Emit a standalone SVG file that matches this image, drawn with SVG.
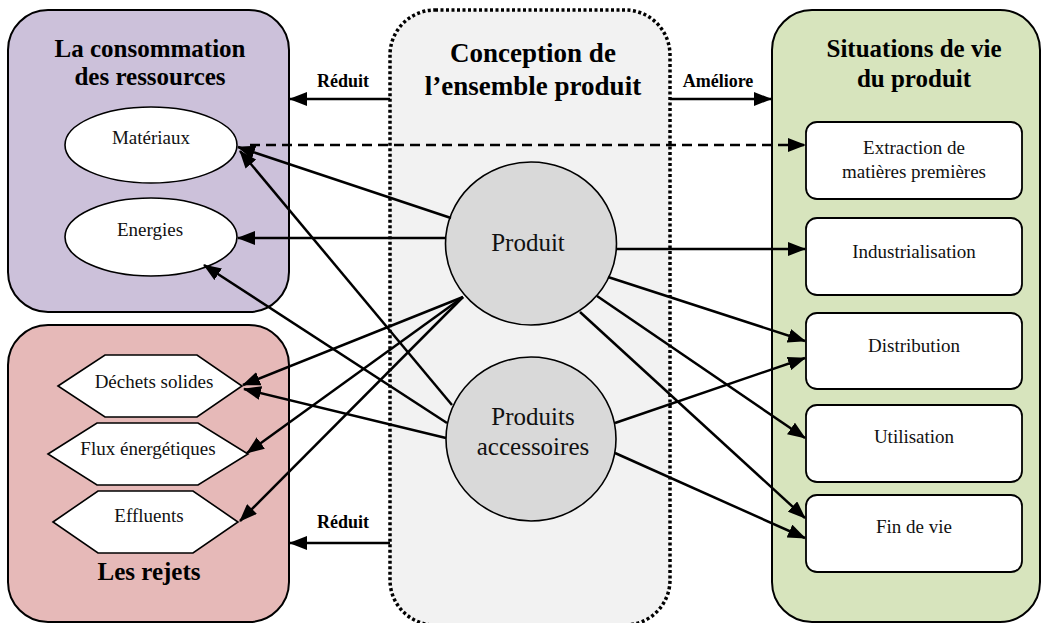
<svg xmlns="http://www.w3.org/2000/svg" width="1043" height="623" viewBox="0 0 1043 623">
<defs>
<marker id="ah" markerUnits="userSpaceOnUse" markerWidth="18" markerHeight="14" refX="17" refY="7" orient="auto">
<path d="M0,0 L18,7 L0,14 z" fill="#000"/>
</marker>
<style>
.panel{stroke:#000;stroke-width:2}
.title{font-family:"Liberation Serif","Times New Roman",serif;font-weight:bold;font-size:25px;text-anchor:middle;fill:#000}
.ctitle{font-family:"Liberation Serif","Times New Roman",serif;font-weight:bold;font-size:27px;text-anchor:middle;fill:#000}
.lbl{font-family:"Liberation Serif","Times New Roman",serif;font-size:19px;text-anchor:middle;fill:#111}
.big{font-family:"Liberation Serif","Times New Roman",serif;font-size:25px;text-anchor:middle;fill:#111}
.act{font-family:"Liberation Serif","Times New Roman",serif;font-weight:bold;font-size:18px;text-anchor:middle;fill:#000}
.shape{fill:#fff;stroke:#000;stroke-width:1.6}
.circ{fill:#d9d9d9;stroke:#000;stroke-width:1.6}
.box{fill:#fff;stroke:#000;stroke-width:1.8}
.c{stroke:#000;stroke-width:2.5;fill:none;marker-end:url(#ah)}
.dash{stroke:#000;stroke-width:2.5;fill:none;stroke-dasharray:10 6;marker-end:url(#ah)}
</style>
</defs>

<g id="panel-ressources">
<rect class="panel" x="8" y="10" width="281" height="302" rx="40" ry="40" fill="#ccc1da"/>
<text class="title" x="150" y="57">La consommation</text>
<text class="title" x="150" y="85">des ressources</text>
</g>
<g id="panel-rejets">
<rect class="panel" x="8" y="325" width="281" height="297" rx="40" ry="40" fill="#e6b9b8"/>
<text class="title" x="149" y="580">Les rejets</text>
</g>
<g id="panel-conception">
<rect x="390" y="10" width="280" height="615" rx="45" ry="45" fill="#f2f2f2" stroke="#000" stroke-width="3.5" stroke-dasharray="3 2.5"/>
<text class="ctitle" x="533" y="62">Conception de</text>
<text class="ctitle" x="533" y="95">l’ensemble produit</text>
</g>
<g id="panel-situations">
<rect class="panel" x="772" y="10" width="268" height="612" rx="40" ry="40" fill="#d7e4bd"/>
<text class="title" x="914" y="57">Situations de vie</text>
<text class="title" x="914" y="87">du produit</text>
</g>

<g id="materiaux">
<ellipse class="shape" cx="151" cy="145" rx="86" ry="38"/>
<text class="lbl" x="151" y="144">Matériaux</text>
</g>
<g id="energies">
<ellipse class="shape" cx="151" cy="237" rx="86" ry="39"/>
<text class="lbl" x="150" y="236">Energies</text>
</g>
<g id="dechets">
<polygon class="shape" points="58,386 105,355 197,355 242,386 197,417 105,417"/>
<text class="lbl" x="154" y="388">Déchets solides</text>
</g>
<g id="flux">
<polygon class="shape" points="48,454 97,423 198,423 248,454 198,485 97,485"/>
<text class="lbl" x="148" y="455">Flux énergétiques</text>
</g>
<g id="effluents">
<polygon class="shape" points="53,522 98,491 193,491 238,522 193,553 98,553"/>
<text class="lbl" x="149" y="522">Effluents</text>
</g>

<g id="produit">
<ellipse class="circ" cx="531" cy="243.5" rx="85.5" ry="81.5"/>
<text class="big" x="528" y="251">Produit</text>
</g>
<g id="accessoires">
<ellipse class="circ" cx="531" cy="439" rx="85" ry="82"/>
<text class="big" x="533" y="425">Produits</text>
<text class="big" x="533" y="455">accessoires</text>
</g>

<g id="extraction">
<rect class="box" x="806" y="122" width="216" height="77" rx="11" ry="11"/>
<text class="lbl" x="914" y="154">Extraction de</text>
<text class="lbl" x="914" y="178">matières premières</text>
</g>
<g id="industrialisation">
<rect class="box" x="806" y="218" width="216" height="77" rx="11" ry="11"/>
<text class="lbl" x="914" y="258">Industrialisation</text>
</g>
<g id="distribution">
<rect class="box" x="806" y="313" width="216" height="76" rx="11" ry="11"/>
<text class="lbl" x="914" y="352">Distribution</text>
</g>
<g id="utilisation">
<rect class="box" x="806" y="405" width="216" height="77" rx="11" ry="11"/>
<text class="lbl" x="914" y="443">Utilisation</text>
</g>
<g id="findevie">
<rect class="box" x="806" y="495" width="216" height="77" rx="11" ry="11"/>
<text class="lbl" x="914" y="533">Fin de vie</text>
</g>

<g id="connectors">
<line class="c" x1="390" y1="99" x2="290" y2="99"/>
<text class="act" x="343" y="87">Réduit</text>
<line class="c" x1="670" y1="99" x2="771" y2="99"/>
<text class="act" x="718" y="87">Améliore</text>
<line class="c" x1="390" y1="543" x2="290" y2="543"/>
<text class="act" x="343" y="528">Réduit</text>
<line class="dash" x1="250" y1="145" x2="805" y2="145"/>
<line class="c" x1="451" y1="218" x2="238" y2="147"/>
<line class="c" x1="445" y1="238" x2="238" y2="238"/>
<line class="c" x1="452" y1="405" x2="240" y2="151"/>
<line class="c" x1="447" y1="423" x2="204" y2="265"/>
<line class="c" x1="446" y1="438" x2="244" y2="389"/>
<line class="c" x1="463" y1="297" x2="243" y2="385"/>
<line class="c" x1="463" y1="297" x2="247" y2="453"/>
<line class="c" x1="463" y1="297" x2="240" y2="521"/>
<line class="c" x1="616" y1="249" x2="805" y2="249"/>
<line class="c" x1="608" y1="277" x2="805" y2="341"/>
<line class="c" x1="597" y1="296" x2="805" y2="438"/>
<line class="c" x1="580" y1="312" x2="805" y2="518"/>
<line class="c" x1="615" y1="423" x2="805" y2="358"/>
<line class="c" x1="615" y1="453" x2="805" y2="538"/>
</g>
</svg>
